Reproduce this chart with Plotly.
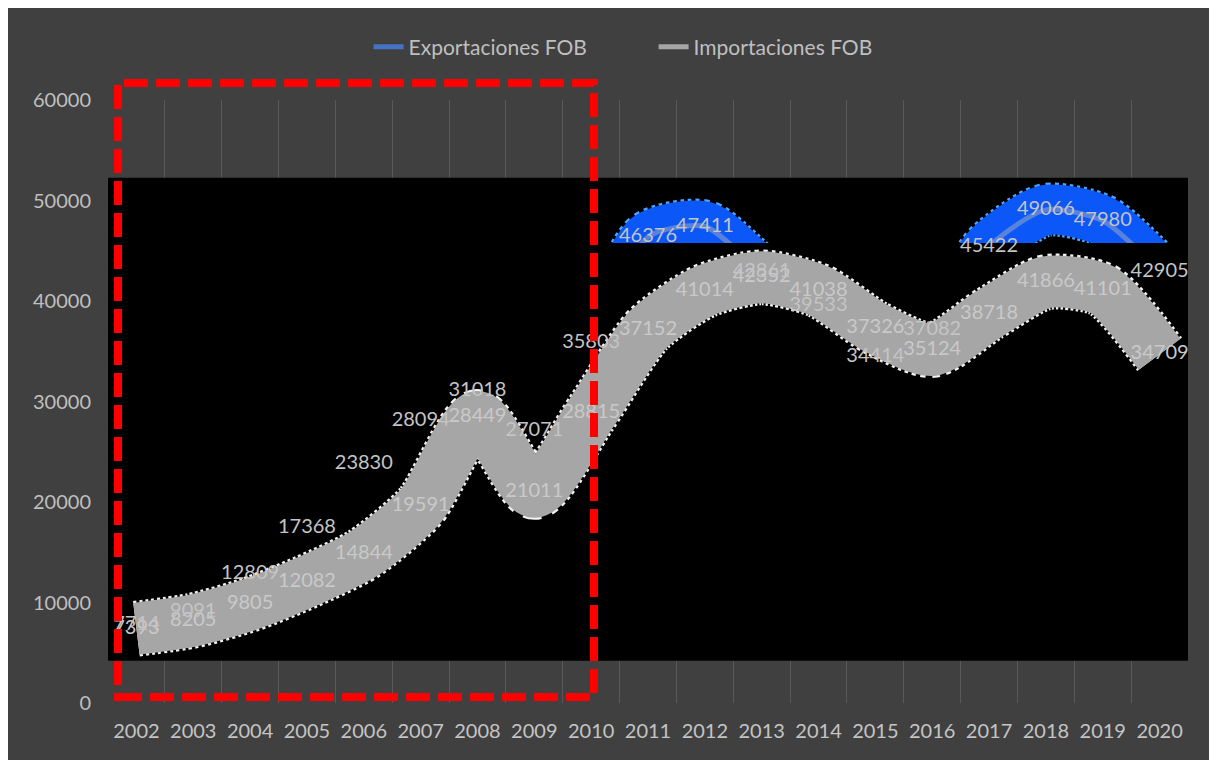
import plotly.graph_objects as go

# ---------------- data ----------------
years = list(range(2002, 2021))
exportaciones = [7714, 9091, 12809, 17368, 23830, 28094, 31018, 27071, 35803,
                 46376, 47411, 42861, 39533, 34414, 37082, 45422, 49066, 47980, 42905]
importaciones = [7393, 8205, 9805, 12082, 14844, 19591, 28449, 21011, 28815,
                 37152, 41014, 42352, 41038, 37326, 35124, 38718, 41866, 41101, 34709]
series_names = ["Exportaciones FOB", "Importaciones FOB"]
y_ticks = [0, 10000, 20000, 30000, 40000, 50000, 60000]
y_tick_text = [str(v) for v in y_ticks]

# ---------------- styling / decoration constants ----------------
X_LO, X_HI = years[0] - 0.5, years[-1] + 0.5
Y_MAX = 60000
BLACK_BOTTOM = 4209
BLACK_TOP = 52270
CLIP_LEVEL = 45770
FONT = "Lato"
BG = "#404040"

# page geometry (the page body adds an 8px offset)
OFF = 8
W, H = 1217 - OFF, 760 - OFF
PLOT_L, PLOT_R, PLOT_T, PLOT_B = 108, 1188, 100, 703   # page pixels
L, R, T, B = PLOT_L - OFF, 1217 - PLOT_R, PLOT_T - OFF, 760 - PLOT_B
pw, ph = PLOT_R - PLOT_L, PLOT_B - PLOT_T


def px_x(p):
    return (p - PLOT_L) / pw


def px_y(p):
    return (PLOT_B - p) / ph


fig = go.Figure()

# legend-only entries
fig.add_trace(go.Scatter(x=[None], y=[None], mode="lines", name=series_names[0],
                         line=dict(color="#4472C4", width=5)))
fig.add_trace(go.Scatter(x=[None], y=[None], mode="lines", name=series_names[1],
                         line=dict(color="#A5A5A5", width=5)))

# upper black panel (behind exports)
fig.add_trace(go.Scatter(x=[X_LO, X_HI, X_HI, X_LO, X_LO],
                         y=[CLIP_LEVEL, CLIP_LEVEL, BLACK_TOP, BLACK_TOP, CLIP_LEVEL],
                         mode="lines", fill="toself", fillcolor="black",
                         line=dict(width=0, color="black"), showlegend=False, hoverinfo="skip"))

# exports thick band
fig.add_trace(go.Scatter(x=years, y=exportaciones, mode="lines", showlegend=False,
                         line=dict(color="#4DA6FF", width=54, shape="spline", smoothing=0.7,
                                   dash="3px,3px"), hoverinfo="skip"))
fig.add_trace(go.Scatter(x=years, y=exportaciones, mode="lines", showlegend=False,
                         line=dict(color="#0B57F7", width=50, shape="spline", smoothing=0.7),
                         hoverinfo="skip"))
fig.add_trace(go.Scatter(x=years, y=exportaciones, mode="lines", showlegend=False,
                         line=dict(color="rgba(185,185,185,0.45)", width=5, shape="spline",
                                   smoothing=0.7), hoverinfo="skip"))

# lower black panel (covers the exports band below the clip level)
fig.add_trace(go.Scatter(x=[X_LO, X_HI, X_HI, X_LO, X_LO],
                         y=[BLACK_BOTTOM, BLACK_BOTTOM, CLIP_LEVEL, CLIP_LEVEL, BLACK_BOTTOM],
                         mode="lines", fill="toself", fillcolor="black",
                         line=dict(width=0, color="black"), showlegend=False, hoverinfo="skip"))

# imports thick band
fig.add_trace(go.Scatter(x=years, y=importaciones, mode="lines", showlegend=False,
                         line=dict(color="#F2F2F2", width=56, shape="spline", smoothing=0.7,
                                   dash="3px,3px"), hoverinfo="skip"))
fig.add_trace(go.Scatter(x=years, y=importaciones, mode="lines", showlegend=False,
                         line=dict(color="#A6A6A6", width=52, shape="spline", smoothing=0.7),
                         hoverinfo="skip"))

# data labels
fig.add_trace(go.Scatter(x=years, y=importaciones, mode="text", showlegend=False,
                         text=[str(v) for v in importaciones], textposition="middle center",
                         textfont=dict(family=FONT, size=20, color="#C9C9C9"), hoverinfo="skip"))
fig.add_trace(go.Scatter(x=years, y=exportaciones, mode="text", showlegend=False,
                         text=[str(v) for v in exportaciones], textposition="middle center",
                         textfont=dict(family=FONT, size=20, color="#C4C4C4"), hoverinfo="skip"))

shapes = [
    # slightly lighter strip at the right edge
    dict(type="rect", xref="paper", yref="paper", x0=px_x(1212), x1=px_x(1230),
         y0=px_y(780), y1=px_y(0), fillcolor="#4A4A4A", line=dict(width=0), layer="above"),
    # red dashed highlight box
    dict(type="rect", xref="paper", yref="paper", x0=px_x(118), x1=px_x(594),
         y0=px_y(697), y1=px_y(83), fillcolor="rgba(0,0,0,0)",
         line=dict(color="#FF0000", width=8, dash="24px,8px"), layer="above"),
]

fig.update_layout(
    width=W, height=H,
    margin=dict(l=L, r=R, t=T, b=B),
    paper_bgcolor=BG, plot_bgcolor=BG,
    font=dict(family=FONT, color="#BFBFBF"),
    showlegend=True,
    legend=dict(orientation="h", x=px_x(374) - 0.005, xanchor="left", y=px_y(47), yanchor="middle",
                font=dict(family=FONT, size=21, color="#BFBFBF"), bgcolor="rgba(0,0,0,0)",
                entrywidth=240, entrywidthmode="pixels"),
    shapes=shapes,
    xaxis=dict(range=[X_LO, X_HI], tickvals=years, ticktext=[str(y) for y in years],
               showgrid=False, zeroline=False, showline=False, ticks="",
               tickfont=dict(family=FONT, size=20, color="#C4C4C4"), ticklabelstandoff=14,
               minor=dict(tick0=X_LO, dtick=1, showgrid=True, gridcolor="#595959", gridwidth=1)),
    yaxis=dict(range=[0, Y_MAX], tickvals=y_ticks, ticktext=y_tick_text, showgrid=True,
               gridcolor="#595959", gridwidth=1, zeroline=False, showline=False, ticks="",
               tickfont=dict(family=FONT, size=20, color="#BFBFBF"), ticklabelstandoff=16),
)

fig.write_html("out.html")
